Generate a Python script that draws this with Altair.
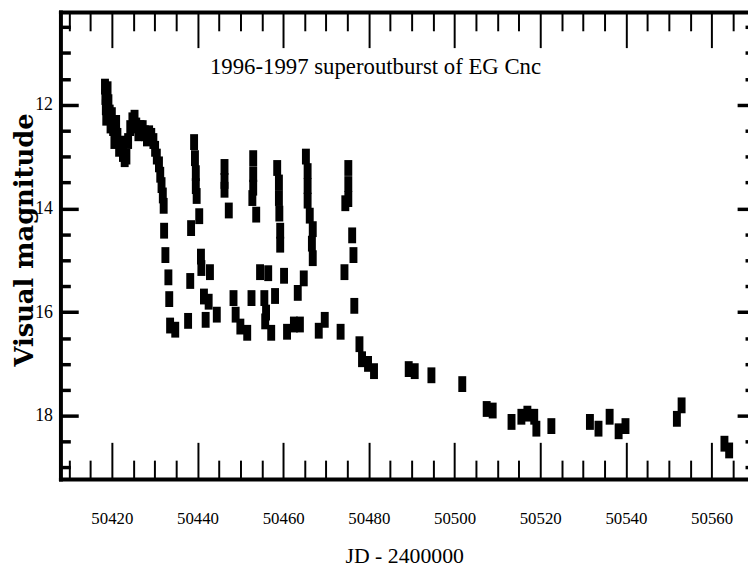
import altair as alt
import pandas as pd

# ---- data (JD - 2400000, visual magnitude) ----
plateau_jd = [50418.4, 50418.5, 50418.6, 50418.7, 50419.0, 50419.2, 50419.5, 50419.7, 50420.0,
              50420.3, 50420.6, 50421.0, 50421.3, 50421.7, 50422.2, 50422.6, 50423.0, 50423.4,
              50423.8, 50424.3, 50424.8, 50425.3, 50425.7, 50426.2, 50426.7, 50427.2, 50427.7,
              50428.2, 50428.7, 50429.2, 50429.7, 50430.1, 50430.5, 50431.0, 50431.3, 50431.6,
              50431.9, 50432.1]
plateau_mag = [11.65, 11.85, 12.05, 12.25, 11.7, 11.95, 12.15, 12.4, 12.2,
               12.45, 12.7, 12.35, 12.6, 12.85, 12.75, 12.95, 13.05, 13.0,
               12.7, 12.45, 12.3, 12.25, 12.4, 12.55, 12.45, 12.45, 12.55,
               12.65, 12.55, 12.6, 12.7, 12.85, 13.0, 13.15, 13.35, 13.55,
               13.75, 13.95]

decline_jd = [50432.2, 50432.5, 50433.2, 50433.4, 50433.6, 50434.8]
decline_mag = [14.43, 14.9, 15.33, 15.75, 16.26, 16.34]

echo_jd = [50439.2, 50439.4, 50439.6, 50439.6, 50439.8, 50440.4, 50438.5,
           50446.3, 50446.3, 50446.3, 50447.3,
           50453.0, 50453.0, 50453.0, 50452.8, 50453.7,
           50458.6, 50459.0, 50459.0, 50459.1, 50459.3, 50459.3,
           50465.3, 50465.7, 50465.7, 50465.7, 50466.2, 50466.9, 50466.7, 50466.9,
           50475.2, 50475.2, 50475.2, 50474.5, 50476.1, 50476.4]
echo_mag = [12.72, 13.03, 13.32, 13.57, 13.76, 14.15, 14.38,
            13.2, 13.47, 13.64, 14.04,
            13.03, 13.34, 13.6, 13.8, 14.12,
            13.22, 13.5, 13.8, 14.1, 14.43, 14.7,
            13.0, 13.28, 13.57, 13.85, 14.14, 14.4, 14.68, 14.96,
            13.22, 13.53, 13.82, 13.9, 14.52, 14.9]

low_jd = [50440.8, 50440.9, 50442.9, 50438.3, 50441.5, 50442.6, 50444.5, 50437.8, 50441.9,
          50448.4, 50448.9, 50450.0, 50451.6, 50452.6, 50454.6, 50456.5, 50455.6, 50456.0,
          50455.8, 50457.2, 50458.1, 50460.2, 50460.9, 50462.5, 50463.4, 50463.9, 50464.8,
          50468.3, 50469.7, 50474.3, 50476.6, 50473.4]
low_mag = [14.93, 15.15, 15.23, 15.4, 15.7, 15.8, 16.05, 16.17, 16.15,
           15.73, 16.05, 16.28, 16.4, 15.73, 15.23, 15.25, 15.73, 16.01,
           16.18, 16.4, 15.69, 15.3, 16.38, 16.24, 15.63, 16.24, 15.35,
           16.36, 16.15, 15.23, 15.88, 16.38]

quiet_jd = [50477.8, 50478.4, 50479.8, 50481.2, 50489.3, 50490.7, 50494.6, 50501.8, 50507.5,
            50508.9, 50513.3, 50515.6, 50517.0, 50518.6, 50519.1, 50522.6, 50531.6, 50533.6,
            50536.2, 50538.3, 50539.9, 50551.9, 50553.0, 50563.0, 50564.1]
quiet_mag = [16.62, 16.91, 17.0, 17.14, 17.1, 17.14, 17.22, 17.39, 17.87,
             17.9, 18.12, 18.02, 17.96, 18.02, 18.25, 18.2, 18.12, 18.25,
             18.02, 18.3, 18.2, 18.06, 17.8, 18.54, 18.67]

x_major = [50420, 50440, 50460, 50480, 50500, 50520, 50540, 50560]
x_minor = [50410, 50415, 50425, 50430, 50435, 50445, 50450, 50455, 50465, 50470, 50475,
           50485, 50490, 50495, 50505, 50510, 50515, 50525, 50530, 50535, 50545, 50550,
           50555, 50565]
y_major = [12, 14, 16, 18]
y_minor = [10.5, 11, 11.5, 12.5, 13, 13.5, 14.5, 15, 15.5, 16.5, 17, 17.5, 18.5, 19]

df = pd.DataFrame({
    "jd": plateau_jd + decline_jd + echo_jd + low_jd + quiet_jd,
    "mag": plateau_mag + decline_mag + echo_mag + low_mag + quiet_mag,
})

xscale = alt.Scale(domain=[50408, 50568.5], nice=False, zero=False)
yscale = alt.Scale(domain=[10.21, 19.22], nice=False, zero=False, reverse=True)

SERIF = "Liberation Serif"
RECT = "M-0.5,-1H0.5V1H-0.5Z"


def tick_axis(orient, values, size, width):
    # tick-only axis shifted into the plot by its tick length: ticks point inward
    return alt.Axis(orient=orient, values=values, tickSize=size, offset=-size,
                    tickWidth=width, tickColor="black", labels=False, domain=False,
                    grid=False, title=None, zindex=1)


base = alt.Chart(df)
pts = base.mark_point(filled=True, shape=RECT, size=256, color="black",
                      opacity=1, strokeWidth=0)
ghost = base.mark_point(filled=True, shape=RECT, size=256, color="black",
                        opacity=0, strokeWidth=0)

layer1 = pts.encode(
    x=alt.X("jd:Q", scale=xscale,
            axis=alt.Axis(orient="bottom", values=x_major, ticks=False, tickSize=0,
                          domain=True, domainColor="black", domainWidth=4,
                          domainCap="square", grid=False, format="d",
                          labelFont=SERIF, labelFontSize=17, labelColor="black",
                          labelBaseline="middle", labelPadding=40, labelOverlap=False,
                          labelFlush=False, zindex=1,
                          title="JD - 2400000", titleFont=SERIF, titleFontSize=22,
                          titleFontWeight="normal", titleColor="black",
                          titleBaseline="middle", titleY=77)),
    y=alt.Y("mag:Q", scale=yscale,
            axis=alt.Axis(orient="left", values=y_major, ticks=False, tickSize=0,
                          domain=True, domainColor="black", domainWidth=4,
                          domainCap="square", grid=False, format="d",
                          labelFont=SERIF, labelFontSize=18, labelColor="black",
                          labelBaseline="middle", labelPadding=8, labelOverlap=False,
                          labelFlush=False, zindex=1,
                          title="Visual magnitude", titleFont="DejaVu Serif",
                          titleFontSize=26, titleFontWeight="bold", titleColor="black",
                          titleAngle=270, titleBaseline="alphabetic", titleAlign="center",
                          titleX=-28, titleY=230)),
)

layer_top = ghost.encode(
    x=alt.X("jd:Q", scale=xscale,
            axis=alt.Axis(orient="top", ticks=False, labels=False, domain=True,
                          domainColor="black", domainWidth=4, domainCap="square",
                          grid=False, title=None, zindex=1)),
    y=alt.Y("mag:Q", scale=yscale,
            axis=alt.Axis(orient="right", ticks=False, labels=False, domain=False,
                          grid=False, title=None)),
)

layer2 = ghost.encode(
    x=alt.X("jd:Q", scale=xscale, axis=tick_axis("bottom", x_major, 37, 2)),
    y=alt.Y("mag:Q", scale=yscale, axis=tick_axis("left", y_major, 18, 3.5)),
)
layer3 = ghost.encode(
    x=alt.X("jd:Q", scale=xscale, axis=tick_axis("bottom", x_minor, 19, 2)),
    y=alt.Y("mag:Q", scale=yscale, axis=tick_axis("left", y_minor, 10, 3.5)),
)
layer4 = ghost.encode(
    x=alt.X("jd:Q", scale=xscale, axis=tick_axis("top", x_major, 36, 2)),
    y=alt.Y("mag:Q", scale=yscale, axis=tick_axis("right", y_major, 11, 3.5)),
)
layer5 = ghost.encode(
    x=alt.X("jd:Q", scale=xscale, axis=tick_axis("top", x_minor, 19, 2)),
    y=alt.Y("mag:Q", scale=yscale, axis=tick_axis("right", y_minor, 3, 3.5)),
)

chart = alt.layer(layer1, layer_top, layer2, layer3, layer4, layer5).resolve_axis(
    x="independent", y="independent"
).properties(
    width=695,
    height=472,
    autosize=alt.AutoSizeParams(type="none"),
    padding={"left": 53, "top": 1, "right": 0, "bottom": 89},
    title=alt.TitleParams("1996-1997 superoutburst of EG Cnc", font=SERIF, fontSize=23,
                          fontWeight="normal", color="black", anchor="middle",
                          baseline="middle", offset=0, dx=-29, dy=80),
).configure_view(stroke=None)

chart.save("out.html", embed_options={"renderer": "svg", "actions": False})
